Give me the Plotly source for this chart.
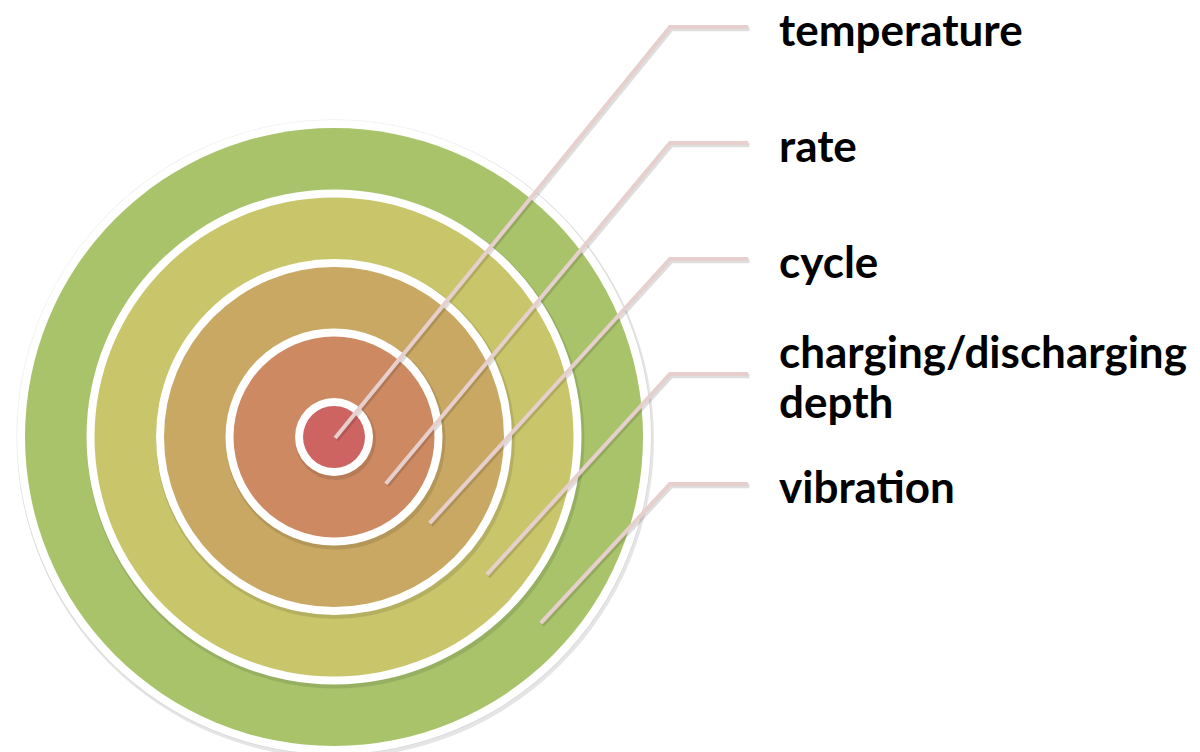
import math
import plotly.graph_objects as go

# Factors, innermost ring first
FACTORS = ["temperature", "rate", "cycle", "charging/discharging<br>depth", "vibration"]
RING_LEVEL = [1, 2, 3, 4, 5]
LABEL_ROW = [27, 143, 259, 374, 484]       # row of each label (px from top)
LEADER_FRAC = [0.05, 0.5, 0.33, 0.45, 0.5]  # where the leader starts inside its ring

RING_COLORS = ["#CD6462", "#CD8962", "#C8A862", "#C9C56B", "#A9C36B"]
LINE_COLOR = "#E6CFCD"

W, H = 1200, 752
PAGE_PAD = 8  # browser body margin
CX, CY = 334, 437
R0, STEP, GAP = 31, 69.5, 8
ELBOW_X, LINE_END_X, TEXT_X = 670, 748, 777
ANGLE = math.radians(42)
FONT = dict(family="Lato, Open Sans, sans-serif", size=44, color="black")
LINE_GAP = 50


def ring_radius(level):
    return R0 + (level - 1) * STEP


def circle(r, color, dx=0, dy=0):
    return dict(type="circle", xref="x", yref="y", layer="below",
                x0=CX - r + dx, x1=CX + r + dx, y0=CY - r + dy, y1=CY + r + dy,
                fillcolor=color, line=dict(width=0))


shapes = []
for lvl, col in sorted(zip(RING_LEVEL, RING_COLORS), reverse=True):
    r = ring_radius(lvl)
    shapes.append(circle(r + GAP + 1.5, "rgba(0,0,0,0.10)", 1.5, 2.5))
    if lvl == max(RING_LEVEL):
        shapes.append(circle(r + GAP + 0.8, "rgba(0,0,0,0.06)"))
    shapes.append(circle(r + GAP, "white"))
    shapes.append(circle(r, col))

fig = go.Figure()
for lvl, frac, row in zip(RING_LEVEL, LEADER_FRAC, LABEL_ROW):
    r_in = 0 if lvl == 1 else ring_radius(lvl - 1) + GAP
    rr = r_in + frac * (ring_radius(lvl) - r_in)
    sx, sy = CX + rr * math.cos(ANGLE), CY + rr * math.sin(ANGLE)
    xs = [sx, ELBOW_X, LINE_END_X]
    ys = [sy, row, row]
    fig.add_trace(go.Scatter(x=[v + 1.5 for v in xs], y=[v + 2 for v in ys], mode="lines",
                             line=dict(color="rgba(0,0,0,0.13)", width=4.5),
                             hoverinfo="skip", showlegend=False))
    fig.add_trace(go.Scatter(x=xs, y=ys, mode="lines",
                             line=dict(color=LINE_COLOR, width=4),
                             hoverinfo="skip", showlegend=False))

for name, row in zip(FACTORS, LABEL_ROW):
    parts = name.split("<br>")
    first = row - (len(parts) - 1) * LINE_GAP / 2
    for i, part in enumerate(parts):
        fig.add_annotation(x=TEXT_X, y=first + i * LINE_GAP + 2, text=f"<b>{part}</b>",
                           showarrow=False, xanchor="left", yanchor="middle",
                           align="left", font=FONT)

fig.update_layout(
    width=W, height=H,
    margin=dict(l=0, r=0, t=0, b=0),
    plot_bgcolor="white", paper_bgcolor="white",
    shapes=shapes,
    xaxis=dict(range=[PAGE_PAD, W + PAGE_PAD], visible=False, fixedrange=True),
    yaxis=dict(range=[H + PAGE_PAD, PAGE_PAD], visible=False, fixedrange=True),
    showlegend=False,
)
fig.write_html("out.html")
